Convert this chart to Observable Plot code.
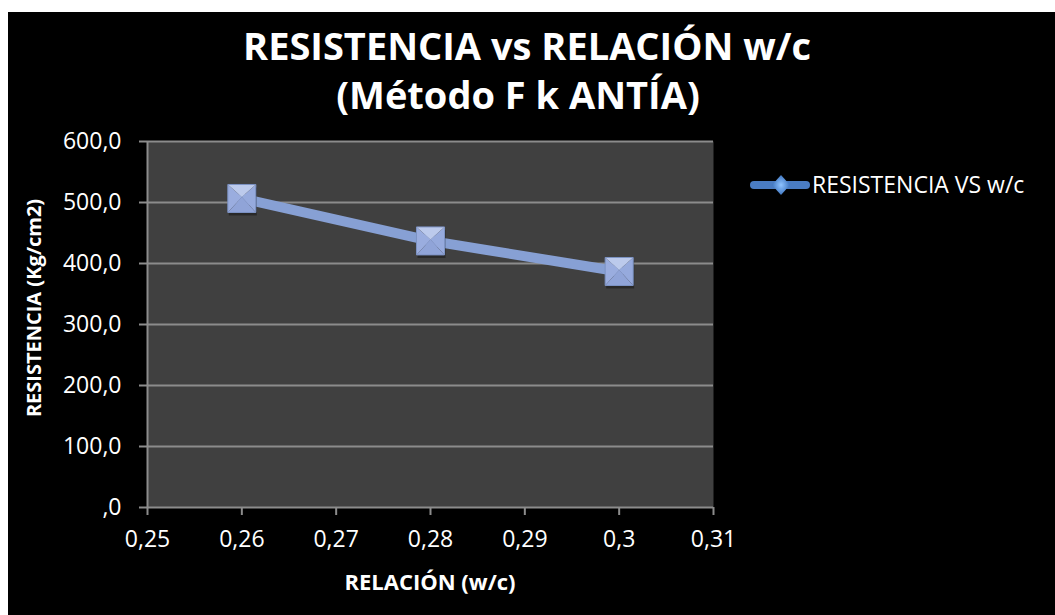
<!DOCTYPE html>
<html><head><meta charset="utf-8">
<script src="https://cdn.jsdelivr.net/npm/d3@7"></script>
<script src="https://cdn.jsdelivr.net/npm/@observablehq/plot@0.6"></script>
<style>
body{margin:0;background:#fff;}
#wrap{position:absolute;left:8px;top:12px;width:1047px;height:603px;background:#000;overflow:hidden;font-family:"Open Sans",sans-serif;}
#chart{position:absolute;left:0;top:112px;}
#over{position:absolute;left:0;top:0;pointer-events:none;}
</style></head><body>
<div id="wrap"><div id="chart"></div></div>
<script>
// ---- data ----
const relacion = [0.26, 0.28, 0.30];
const resistencia = [506.6, 437.0, 386.9];
const xTicks = [0.25, 0.26, 0.27, 0.28, 0.29, 0.30, 0.31];
const yTicks = [0, 100, 200, 300, 400, 500, 600];
const seriesName = "RESISTENCIA VS w/c";
const titleLines = ["RESISTENCIA vs RELACIÓN w/c", "(Método F k ANTÍA)"];
const xLabel = "RELACIÓN (w/c)";
const yLabel = "RESISTENCIA (Kg/cm2)";

const data = relacion.map((x, i) => ({x, y: resistencia[i]}));
const fmtY = d => d === 0 ? ",0" : d.toFixed(1).replace(".", ",");
const fmtX = d => String(+d.toFixed(2)).replace(".", ",");

// pyramid-face symbols for the bevelled square markers
const face = fn => ({draw(ctx, size) {
  const s = Math.sqrt(size) / 2, a = -s * 0.1;
  const p = fn(s, a);
  ctx.moveTo(p[0][0], p[0][1]);
  for (let i = 1; i < p.length; ++i) ctx.lineTo(p[i][0], p[i][1]);
  ctx.closePath();
}});
const sq = face(s => [[-s,-s],[s,-s],[s,s],[-s,s]]);
const fTop = face((s,a) => [[-s,-s],[s,-s],[0,a]]);
const fLeft = face((s,a) => [[-s,-s],[0,a],[-s,s]]);
const fRight = face((s,a) => [[s,-s],[0,a],[s,s]]);
const fBot = face((s,a) => [[-s,s],[0,a],[s,s]]);
const R = 15.8;
const grid = "#8c8c8c";

const chart = Plot.plot({
  width: 1047, height: 491,
  marginLeft: 139, marginRight: 342, marginTop: 17, marginBottom: 108,
  style: {background: "transparent", color: "#fff", fontFamily: "Open Sans", fontSize: "23px", overflow: "visible"},
  x: {domain: [0.25, 0.31]},
  y: {domain: [0, 600]},
  marks: [
    Plot.frame({fill: "#404040", stroke: null}),
    Plot.ruleY(yTicks.filter(d => d > 0), {stroke: grid, strokeWidth: 2}),
    Plot.ruleY([0], {stroke: grid, strokeWidth: 2}),
    Plot.ruleX([0.25], {stroke: grid, strokeWidth: 2}),
    Plot.axisX({ticks: xTicks, tickFormat: fmtX, tickSize: 8, tickPadding: 15, fontSize: 23, label: null, stroke: grid, fill: "#fff", strokeWidth: 2}),
    Plot.axisY({ticks: yTicks, tickFormat: fmtY, tickSize: 8, tickPadding: 18, fontSize: 23, label: null, stroke: grid, fill: "#fff", strokeWidth: 2}),
    Plot.line(data, {x: "x", y: "y", stroke: "#87a0d4", strokeWidth: 10}),
    Plot.dot(data, {x: "x", y: "y", r: R, symbol: sq, fill: "#000", fillOpacity: 0.35, dx: 1, dy: 3, stroke: null}),
    Plot.dot(data, {x: "x", y: "y", r: R, symbol: fBot, fill: "#90a4d8", stroke: null}),
    Plot.dot(data, {x: "x", y: "y", r: R, symbol: fLeft, fill: "#9aaddf", stroke: null}),
    Plot.dot(data, {x: "x", y: "y", r: R, symbol: fRight, fill: "#96aadd", stroke: null}),
    Plot.dot(data, {x: "x", y: "y", r: R, symbol: fTop, fill: "#bccaec", stroke: null}),
    Plot.dot(data, {x: "x", y: "y", r: R, symbol: sq, fill: "none", stroke: "#7d93c4", strokeWidth: 1})
  ]
});
chart.querySelectorAll('[aria-label$="tick"]').forEach(g => g.setAttribute("stroke", grid));
document.getElementById("chart").appendChild(chart);

// ---- titles and legend overlay ----
const ns = "http://www.w3.org/2000/svg";
const over = document.createElementNS(ns, "svg");
over.setAttribute("id", "over");
over.setAttribute("width", 1047);
over.setAttribute("height", 603);
over.innerHTML = `
  <defs>
    <radialGradient id="lg" cx="50%" cy="50%" r="50%">
      <stop offset="0%" stop-color="#8fc3ff"/>
      <stop offset="100%" stop-color="#3f76c0"/>
    </radialGradient>
  </defs>
  <g fill="#fff" font-family="Open Sans" font-weight="bold">
    <text x="519" y="48" font-size="38" text-anchor="middle">${titleLines[0]}</text>
    <text x="510" y="97" font-size="38" text-anchor="middle">${titleLines[1]}</text>
    <text transform="translate(33,296) rotate(-90)" font-size="20" text-anchor="middle">${yLabel}</text>
    <text x="422" y="578" font-size="22" text-anchor="middle">${xLabel}</text>
  </g>
  <line x1="746" y1="173" x2="798" y2="173" stroke="#4a7cc2" stroke-width="8" stroke-linecap="round"/>
  <path d="M773,163 L782,173 L773,183 L764,173 Z" fill="url(#lg)"/>
  <text x="804" y="181" font-size="23" fill="#fff" font-family="Open Sans">${seriesName}</text>
`;
document.getElementById("wrap").appendChild(over);
</script>
</body></html>
